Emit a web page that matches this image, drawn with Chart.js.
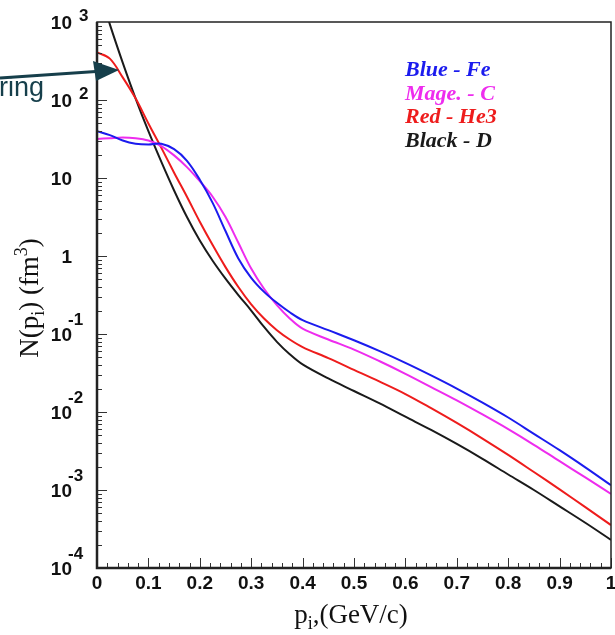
<!DOCTYPE html>
<html>
<head>
<meta charset="utf-8">
<script src="https://cdn.jsdelivr.net/npm/chart.js@4"></script>
<style>
  body { margin: 0; background: #fff; }
  #wrap { width: 615px; height: 635px; position: relative; }
</style>
</head>
<body>
<div id="wrap"><canvas id="momChart" width="615" height="635"></canvas></div>
<script>
// momentum p_i (GeV/c)
const pValues = [0, 0.025, 0.05, 0.075, 0.1, 0.125, 0.15, 0.175, 0.2, 0.225, 0.25, 0.275, 0.3, 0.325,
  0.35, 0.375, 0.4, 0.45, 0.5, 0.55, 0.6, 0.65, 0.7, 0.75, 0.8, 0.85, 0.9, 0.95, 1.0];

// N(p_i) in fm^3
const feValues = [39.8, 35.5, 30.2, 27.5, 26.9, 27.5, 23.4, 16.6, 9.5, 4.8, 2.09, 0.93, 0.525, 0.347,
  0.251, 0.19, 0.151, 0.112, 0.0832, 0.0603, 0.0427, 0.0295, 0.020, 0.0132, 0.0085, 0.00525, 0.00324, 0.00195, 0.00115];
const cValues = [31.6, 32.4, 33.1, 32.4, 30.2, 25.7, 19.5, 13.8, 9.1, 5.75, 3.16, 1.48, 0.69, 0.38,
  0.234, 0.158, 0.117, 0.085, 0.0631, 0.0447, 0.0309, 0.0209, 0.0141, 0.0093, 0.00603, 0.0038, 0.00234, 0.00145, 0.00089];
const he3Values = [407, 339, 195, 105, 50, 24.5, 11.7, 5.75, 2.75, 1.38, 0.72, 0.40, 0.24, 0.158,
  0.112, 0.085, 0.068, 0.049, 0.0347, 0.0245, 0.017, 0.0112, 0.00724, 0.00457, 0.00282, 0.0017, 0.00102, 0.000603, 0.000355];
const dValues = [3160, 933, 302, 105, 39.8, 16.2, 6.92, 3.16, 1.58, 0.87, 0.513, 0.316, 0.20, 0.123,
  0.0794, 0.055, 0.0407, 0.0269, 0.0186, 0.0129, 0.0087, 0.00589, 0.00389, 0.00251, 0.00158, 0.0010, 0.000617, 0.00038, 0.000229];

const xTickValues = [0, 0.1, 0.2, 0.3, 0.4, 0.5, 0.6, 0.7, 0.8, 0.9, 1];
const xTickLabels = ['0', '0.1', '0.2', '0.3', '0.4', '0.5', '0.6', '0.7', '0.8', '0.9', '1'];
const yTickValues = [1e3, 1e2, 1e1, 1, 1e-1, 1e-2, 1e-3, 1e-4];
const yTickBase = ['10', '10', '10', '1', '10', '10', '10', '10'];
const yTickExp = ['3', '2', '', '', '-1', '-2', '-3', '-4'];

const legendLabels = ['Blue - Fe', 'Mage. - C', 'Red - He3', 'Black - D'];
const colors = ['#1b1bee', '#ee2cee', '#ee1c1c', '#1a1a1a'];

function toPoints(vals) {
  return pValues.map((p, i) => ({ x: p, y: vals[i] }));
}

const framePlugin = {
  id: 'rootFrame',
  afterDraw(chart) {
    const ctx = chart.ctx;
    const a = chart.chartArea;
    const xs = chart.scales.x;
    const ys = chart.scales.y;
    ctx.save();

    // ticks inside the frame
    ctx.strokeStyle = '#333';
    ctx.lineWidth = 1;
    for (let d = -4; d < 3; d++) {
      for (let m = 1; m <= 9; m++) {
        const y = Math.round(ys.getPixelForValue(m * Math.pow(10, d))) + 0.5;
        const len = m === 1 ? 10 : 5;
        ctx.beginPath(); ctx.moveTo(a.left, y); ctx.lineTo(a.left + len, y); ctx.stroke();
      }
    }
    for (let k = 0; k <= 50; k++) {
      const x = Math.round(xs.getPixelForValue(k * 0.02)) + 0.5;
      const len = k % 5 === 0 ? 10 : 5;
      ctx.beginPath(); ctx.moveTo(x, a.bottom); ctx.lineTo(x, a.bottom - len); ctx.stroke();
    }

    // frame
    ctx.strokeStyle = '#222';
    ctx.lineWidth = 1.5;
    ctx.strokeRect(a.left, a.top, a.right - a.left, a.bottom - a.top);
    ctx.lineWidth = 2.5;
    ctx.beginPath(); ctx.moveTo(a.left, a.top); ctx.lineTo(a.left, a.bottom); ctx.lineTo(a.right, a.bottom); ctx.stroke();

    // x tick labels
    ctx.fillStyle = '#111';
    ctx.font = 'bold 19px "Liberation Sans", Arial, sans-serif';
    ctx.textAlign = 'center';
    ctx.textBaseline = 'middle';
    xTickValues.forEach((v, i) => {
      ctx.fillText(xTickLabels[i], xs.getPixelForValue(v), a.bottom + 16);
    });

    // y tick labels: 10 with exponent
    yTickValues.forEach((v, i) => {
      const y = ys.getPixelForValue(v);
      ctx.font = 'bold 19px "Liberation Sans", Arial, sans-serif';
      ctx.textAlign = 'right';
      ctx.fillText(yTickBase[i], 72, y + 2);
      if (yTickExp[i]) {
        ctx.font = 'bold 17px "Liberation Sans", Arial, sans-serif';
        ctx.textAlign = 'left';
        const neg = yTickExp[i].startsWith('-');
        ctx.fillText(yTickExp[i], neg ? 68 : 79, y + (neg ? -14 : -6));
      }
    });

    // axis titles
    ctx.fillStyle = '#111';
    ctx.textBaseline = 'alphabetic';
    ctx.textAlign = 'left';
    const big = '27px "Liberation Serif", "Times New Roman", serif';
    const small = '18px "Liberation Serif", "Times New Roman", serif';
    function drawRich(parts, x, y) {
      let cx = x;
      parts.forEach(([t, kind]) => {
        ctx.font = kind ? small : big;
        const dy = kind === 'sub' ? 6 : kind === 'sup' ? -11 : 0;
        ctx.fillText(t, cx, y + dy);
        cx += ctx.measureText(t).width;
      });
    }
    function richWidth(parts) {
      let w = 0;
      parts.forEach(([t, kind]) => { ctx.font = kind ? small : big; w += ctx.measureText(t).width; });
      return w;
    }
    const xTitle = [['p', ''], ['i', 'sub'], [',(GeV/c)', '']];
    drawRich(xTitle, 351 - richWidth(xTitle) / 2, 623);

    const yTitle = [['N(p', ''], ['i', 'sub'], [') (fm', ''], ['3', 'sup'], [')', '']];
    ctx.save();
    ctx.translate(38, 298);
    ctx.rotate(-Math.PI / 2);
    drawRich(yTitle, -richWidth(yTitle) / 2, 0);
    ctx.restore();

    // legend text
    ctx.font = 'bold italic 22px "Liberation Serif", "Times New Roman", serif';
    ctx.textAlign = 'left';
    legendLabels.forEach((t, i) => {
      ctx.fillStyle = colors[i];
      ctx.fillText(t, 405, 76 + i * 23.5);
    });

    // annotation arrow and clipped word
    ctx.fillStyle = '#163f4b';
    ctx.strokeStyle = '#163f4b';
    ctx.lineWidth = 3;
    ctx.beginPath(); ctx.moveTo(0, 78); ctx.lineTo(96, 71.5); ctx.stroke();
    ctx.beginPath();
    ctx.moveTo(119, 70); ctx.lineTo(93, 61); ctx.lineTo(96, 81); ctx.closePath(); ctx.fill();
    ctx.font = '27px "Liberation Sans", Arial, sans-serif';
    ctx.fillText('ring', -1, 96);

    ctx.restore();
  }
};

new Chart(document.getElementById('momChart'), {
  type: 'line',
  data: {
    datasets: [
      { label: 'Fe', data: toPoints(feValues), borderColor: colors[0] },
      { label: 'C', data: toPoints(cValues), borderColor: colors[1] },
      { label: 'He3', data: toPoints(he3Values), borderColor: colors[2] },
      { label: 'D', data: toPoints(dValues), borderColor: colors[3] }
    ].map(ds => Object.assign(ds, {
      borderWidth: 2,
      pointRadius: 0,
      fill: false,
      tension: 0.35
    }))
  },
  options: {
    responsive: false,
    animation: false,
    layout: { padding: { left: 97, right: 4, top: 22, bottom: 67 } },
    plugins: { legend: { display: false }, tooltip: { enabled: false } },
    scales: {
      x: { type: 'linear', min: 0, max: 1, display: false },
      y: { type: 'logarithmic', min: 1e-4, max: 1e3, display: false }
    }
  },
  plugins: [framePlugin]
});
</script>
</body>
</html>
